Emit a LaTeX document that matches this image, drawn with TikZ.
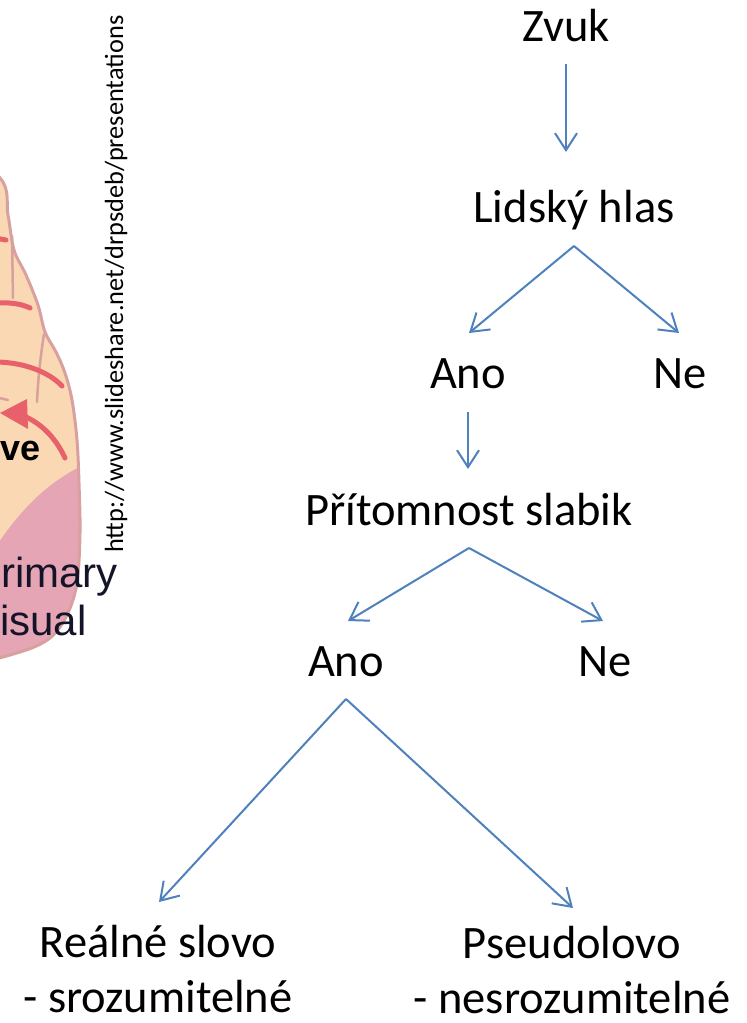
\documentclass[tikz,border=0pt]{standalone}
\usepackage{fontspec}
\setmainfont{Carlito}
\newfontfamily\arialfont{Liberation Sans}
\usetikzlibrary{arrows.meta}
\definecolor{arrblue}{RGB}{79,129,189}
\definecolor{peach}{RGB}{250,216,180}
\definecolor{brainpink}{RGB}{229,165,180}
\definecolor{sulcus}{RGB}{232,96,106}
\definecolor{gyrus}{RGB}{217,160,160}
\definecolor{labeltext}{RGB}{20,20,40}
\begin{document}
\begin{tikzpicture}[x=1pt,y=-1pt,
 lbl/.style={inner sep=0pt, anchor=base, font=\fontsize{46.5}{55}\selectfont},
 arr/.style={draw=arrblue, line width=2pt, -{Straight Barb[length=17pt,width=22pt]}},
 sul/.style={draw=sulcus, line width=5pt, line cap=round},
 gyr/.style={draw=gyrus, line width=2.5pt, line cap=round},
 brainlbl/.style={inner sep=0pt, text=labeltext, font=\arialfont\fontsize{42}{48}\selectfont}]
\useasboundingbox (0,0) rectangle (747,1023);
\fill[white] (0,0) rectangle (747,1023);
\def\brainoutline{plot[smooth cycle, tension=0.55] coordinates {(-60,140) (0,178) (8,215) (14,250) (26,275) (38,305) (45,332) (56,352) (65,373) (72,400) (77,440) (79,483) (80,533) (77,583) (67,615) (50,638) (20,652) (-30,662) (-60,640)}}
\begin{scope}
 \clip (0,0) rectangle (747,1023);
 \fill[peach] \brainoutline;
 \begin{scope}
  \clip \brainoutline;
  \fill[brainpink] (95,460) .. controls (50,478) and (20,510) .. (-5,548) -- (-80,548) -- (-80,720) -- (95,720) -- cycle;
 \end{scope}
 % gyri (thin lines)
 \draw[gyr] (12,236) -- (13,298);
 \draw[gyr] (44,334) .. controls (40,360) and (38,380) .. (37,402);
 \draw[gyr] (-5,397) -- (8,400);
 % sulci (thick red)
 \draw[sul] (-5,238) -- (6,240);
 \draw[sul] (-5,303) .. controls (10,302) and (22,304) .. (30,308);
 \draw[sul] (-5,362) .. controls (25,362) and (50,373) .. (62,386);
 \draw[sul] (65,458) .. controls (55,436) and (38,420) .. (18,414);
 \fill[sulcus] (27,399) -- (0,413) -- (28,429) -- cycle;
 \draw[draw=gyrus, line width=3pt] \brainoutline;
\end{scope}
% brain labels
\node[brainlbl, font=\arialfont\bfseries\fontsize{36}{42}\selectfont, text=black, anchor=base west] (ve) at (0,460) {ve};
\node[brainlbl, anchor=base east] (rimary) at (118,587) {rimary};
\node[brainlbl, anchor=base west] (isual) at (0,635) {isual};
% source
\node[inner sep=0pt, anchor=base west, rotate=90, font=\fontsize{26.3}{30}\selectfont] (url) at (123,553) {http://www.slideshare.net/drpsdeb/presentations};
% tree
\node[lbl] (zvuk) at (566,41) {Zvuk};
\node[lbl] (lidsky) at (574,222) {Lidský hlas};
\node[lbl] (ano1) at (468,388) {Ano};
\node[lbl] (ne1) at (680,388) {Ne};
\node[lbl] (pritomnost) at (469,525) {Přítomnost slabik};
\node[lbl] (ano2) at (346,676) {Ano};
\node[lbl] (ne2) at (605,676) {Ne};
\node[lbl, align=center] (realne) at (158,1012) {Reálné slovo\\- srozumitelné};
\node[lbl, align=center] (pseudo) at (572,1013) {Pseudolovo\\- nesrozumitelné};
\draw[arr] ([yshift=-23pt]zvuk.base) -- ([yshift=-111pt]zvuk.base);
\draw[arr] ([yshift=-24pt]lidsky.base) -- ([xshift=1pt,yshift=55pt]ano1.base);
\draw[arr] ([yshift=-24pt]lidsky.base) -- ([xshift=-1pt,yshift=55pt]ne1.base);
\draw[arr] ([yshift=-24pt]ano1.base) -- ([yshift=-81pt]ano1.base);
\draw[arr] ([yshift=-23pt]pritomnost.base) -- ([xshift=2pt,yshift=55pt]ano2.base);
\draw[arr] ([yshift=-23pt]pritomnost.base) -- ([xshift=-2pt,yshift=55pt]ne2.base);
\draw[arr] ([yshift=-23pt]ano2.base) -- ([xshift=1pt,yshift=110pt]realne.base);
\draw[arr] ([yshift=-23pt]ano2.base) -- ([xshift=1pt,yshift=105pt]pseudo.base);
\end{tikzpicture}
\end{document}
